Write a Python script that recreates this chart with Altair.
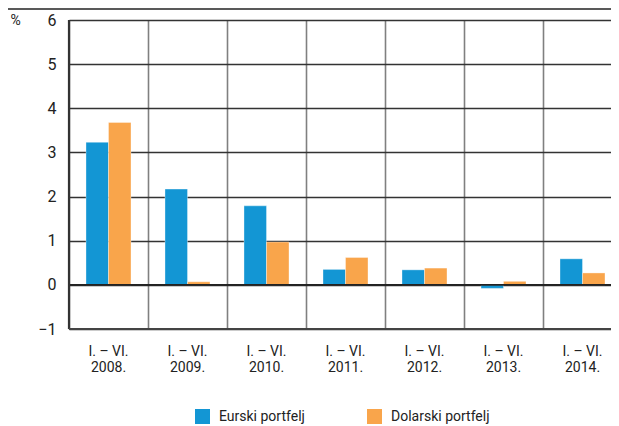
import altair as alt
import pandas as pd

periods = ["I. – VI.\n2008.", "I. – VI.\n2009.", "I. – VI.\n2010.", "I. – VI.\n2011.",
           "I. – VI.\n2012.", "I. – VI.\n2013.", "I. – VI.\n2014."]
series_names = ["Eurski portfelj", "Dolarski portfelj"]
euro = [3.23, 2.17, 1.79, 0.35, 0.34, -0.08, 0.59]
dollar = [3.68, 0.07, 0.97, 0.62, 0.38, 0.08, 0.27]
colors = ["#1396d4", "#f9a54b"]

rows = []
for i, p in enumerate(periods):
    rows.append({"period": p, "series": series_names[0], "value": euro[i]})
    rows.append({"period": p, "series": series_names[1], "value": dollar[i]})
df = pd.DataFrame(rows)

FONT = "Roboto"
W = 553
H = 309

bars = alt.Chart(df).mark_bar(stroke="white", strokeOpacity=0.35, strokeWidth=1).encode(
    x=alt.X("period:N", sort=periods,
            scale=alt.Scale(paddingInner=0, paddingOuter=0),
            axis=alt.Axis(title=None, labelAngle=0, ticks=False, domain=False,
                          labelExpr="split(datum.label, '\\n')",
                          labelFontSize=14, labelLineHeight=16, labelPadding=15,
                          labelColor="#222", labelFont=FONT,
                          grid=True, gridColor="#808080", gridWidth=1.6,
                          bandPosition=0)),
    xOffset=alt.XOffset("series:N", sort=series_names,
                        scale=alt.Scale(paddingOuter=0.755, paddingInner=0)),
    y=alt.Y("value:Q",
            scale=alt.Scale(domain=[-1, 6], nice=False, zero=False),
            axis=alt.Axis(values=[-1, 0, 1, 2, 3, 4, 5, 6], ticks=False,
                          domain=False, grid=True, gridColor="#333", gridWidth=1.3,
                          labelFontSize=16, labelPadding=13, labelColor="#222",
                          labelFont=FONT,
                          title="%", titleAngle=0, titleX=-59, titleY=0,
                          titleAlign="left", titleBaseline="middle",
                          titleFontSize=14, titleFontWeight="normal",
                          titleFont=FONT, titleColor="#222")),
    color=alt.Color("series:N", sort=series_names,
                    scale=alt.Scale(domain=series_names, range=colors),
                    legend=alt.Legend(title=None, orient="none", direction="horizontal",
                                      legendX=126, legendY=389,
                                      symbolType="square", symbolSize=225,
                                      symbolStrokeWidth=0, symbolOpacity=1,
                                      labelFontSize=14, labelFont=FONT,
                                      labelColor="#222", columnPadding=62,
                                      labelOffset=9)),
)

zero_rule = alt.Chart(pd.DataFrame({"y": [0]})).mark_rule(color="#222", strokeWidth=1.6).encode(
    y="y:Q", x=alt.value(0), x2=alt.value(W))

left_axis = alt.Chart(pd.DataFrame({"y": [0]})).mark_rule(color="#333", strokeWidth=2.2).encode(
    x=alt.value(0), y=alt.value(0), y2=alt.value(H))

bottom_axis = alt.Chart(pd.DataFrame({"y": [0]})).mark_rule(color="#444", strokeWidth=2).encode(
    x=alt.value(0), x2=alt.value(W), y=alt.value(H))

top_rule = alt.Chart(pd.DataFrame({"y": [0]})).mark_rule(color="#222", strokeWidth=1.6).encode(
    x=alt.value(-61), x2=alt.value(W), y=alt.value(-11))

chart = alt.layer(bars, zero_rule, left_axis, bottom_axis, top_rule).properties(
    width=W, height=H,
    autosize=alt.AutoSizeParams(type="none"),
    padding={"left": 61, "top": 12, "right": -11, "bottom": 97},
).configure_view(stroke=None).configure(background="white")

chart.save("out.html", embed_options={"renderer": "svg", "actions": False})
